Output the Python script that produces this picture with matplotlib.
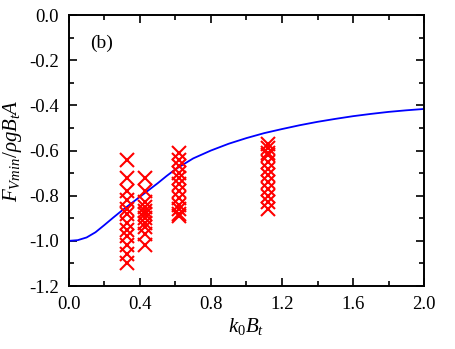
import matplotlib
matplotlib.use("Agg")
import matplotlib.pyplot as plt
from matplotlib.ticker import MultipleLocator, FormatStrFormatter

plt.rcParams['font.family'] = ['Liberation Serif', 'DejaVu Serif']
plt.rcParams['mathtext.fontset'] = 'custom'
plt.rcParams['mathtext.rm'] = 'Liberation Serif'
plt.rcParams['mathtext.it'] = 'Liberation Serif:italic'

# Theoretical curve
curve_k = [0.0, 0.05, 0.1, 0.15, 0.2, 0.25, 0.3, 0.35, 0.4, 0.45, 0.5, 0.55,
           0.6, 0.7, 0.8, 0.9, 1.0, 1.1, 1.2, 1.3, 1.4, 1.5, 1.6, 1.7, 1.8,
           1.9, 2.0]
curve_f = [-1.0, -0.997, -0.985, -0.962, -0.93, -0.897, -0.865, -0.835, -0.805,
           -0.775, -0.745, -0.713, -0.683, -0.635, -0.6, -0.57, -0.545, -0.523,
           -0.505, -0.488, -0.473, -0.46, -0.448, -0.438, -0.429, -0.422, -0.416]

# Measured values, grouped by k0*Bt
exp_k = [0.33, 0.43, 0.62, 1.12]
exp_f = [
    [-0.64, -0.72, -0.78, -0.82, -0.86, -0.88, -0.92, -0.95, -0.98, -1.02, -1.06, -1.10],
    [-0.72, -0.78, -0.83, -0.85, -0.87, -0.88, -0.90, -0.92, -0.94, -0.97, -1.02],
    [-0.61, -0.64, -0.67, -0.70, -0.72, -0.75, -0.78, -0.81, -0.84, -0.86, -0.88, -0.89],
    [-0.57, -0.59, -0.61, -0.62, -0.65, -0.68, -0.71, -0.74, -0.77, -0.80, -0.83, -0.86],
]

fig = plt.figure(figsize=(4.56, 3.49), dpi=100)
ax = fig.add_axes([0.151, 0.1805, 0.779, 0.7765])

ax.plot(curve_k, curve_f, color='#0000ff', lw=1.3)
for k, fs in zip(exp_k, exp_f):
    ax.plot([k] * len(fs), fs, linestyle='none', marker='x', color='#ff0000',
            markersize=10, markeredgewidth=1.5)

ax.set_xlim(0.0, 2.0)
ax.set_ylim(-1.2, 0.0)
ax.xaxis.set_major_locator(MultipleLocator(0.4))
ax.xaxis.set_minor_locator(MultipleLocator(0.2))
ax.yaxis.set_major_locator(MultipleLocator(0.2))
ax.yaxis.set_minor_locator(MultipleLocator(0.1))
ax.xaxis.set_major_formatter(FormatStrFormatter('%.1f'))
ax.yaxis.set_major_formatter(FormatStrFormatter('%.1f'))

ax.tick_params(which='both', direction='in', top=True, right=True, width=1.2)
ax.tick_params(which='major', length=6, labelsize=13.5, pad=7)
ax.tick_params(which='minor', length=3.5)
for s in ax.spines.values():
    s.set_linewidth(1.4)

ax.set_xlabel(r'$k_0B_t$', fontsize=15, labelpad=2)
ax.set_ylabel(r'$F_{Vmin}/\rho gB_tA$', fontsize=15, labelpad=4)
ax.text(0.06, 0.88, '(b)', transform=ax.transAxes, fontsize=14)

fig.savefig('out.png', dpi=100)
